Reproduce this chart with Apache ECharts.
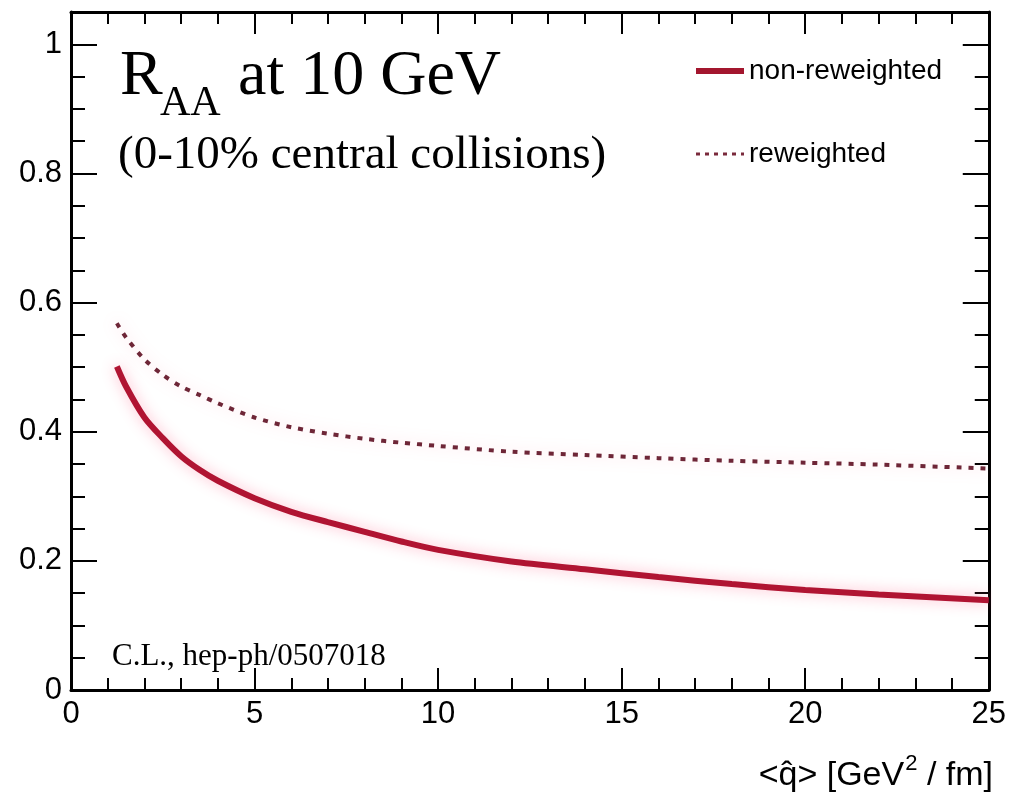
<!DOCTYPE html>
<html>
<head>
<meta charset="utf-8">
<script src="https://cdn.jsdelivr.net/npm/echarts@6/dist/echarts.min.js"></script>
<style>
html,body{margin:0;padding:0;background:#fff;}
#chart{width:1009px;height:801px;}
</style>
</head>
<body>
<div id="chart"></div>
<script>
// <q̂> values [GeV^2/fm]
var qhat = [1.25, 1.5, 2, 2.5, 3, 3.5, 4, 5, 6, 7, 8, 9, 10, 12, 14, 16, 18, 20, 22, 25];
// R_AA, non-reweighted (solid)
var nonReweighted = [0.501, 0.470, 0.422, 0.390, 0.362, 0.341, 0.324, 0.297, 0.276, 0.260, 0.245, 0.230, 0.217, 0.199, 0.187, 0.175, 0.164, 0.155, 0.148, 0.139];
// R_AA, reweighted (dotted)
var reweighted = [0.568, 0.546, 0.512, 0.488, 0.470, 0.457, 0.444, 0.422, 0.407, 0.397, 0.389, 0.383, 0.378, 0.369, 0.364, 0.359, 0.355, 0.352, 0.349, 0.343];
var seriesNames = ['non-reweighted', 'reweighted'];
var xTicks = {min: 0, max: 25, interval: 5};
var yTicks = {min: 0, max: 1.05, interval: 0.2};

function pairs(xs, ys) { return xs.map(function (x, i) { return [x, ys[i]]; }); }

var chart = echarts.init(document.getElementById('chart'), null, {renderer: 'canvas'});
var sansFont = '"Liberation Sans", Arial, Helvetica, sans-serif';
var serifFont = '"Liberation Serif", "Times New Roman", serif';

function xAxisDef(pos, showLabel) {
  return {
    type: 'value', position: pos,
    min: xTicks.min, max: xTicks.max, interval: xTicks.interval,
    axisLine: {show: true, onZero: false, lineStyle: {color: '#000', width: 3}},
    axisTick: {show: true, inside: true, length: 22, lineStyle: {color: '#000', width: 2}},
    minorTick: {show: true, splitNumber: 5, length: 12, lineStyle: {color: '#000', width: 2}},
    splitLine: {show: false},
    axisLabel: {show: showLabel, color: '#000', fontFamily: sansFont, fontSize: 31, margin: 9}
  };
}
function yAxisDef(pos, showLabel) {
  return {
    type: 'value', position: pos,
    min: yTicks.min, max: yTicks.max, interval: yTicks.interval,
    axisLine: {show: true, onZero: false, lineStyle: {color: '#000', width: 3}},
    axisTick: {show: true, inside: true, length: 26, lineStyle: {color: '#000', width: 2}},
    minorTick: {show: true, splitNumber: 4, length: 14, lineStyle: {color: '#000', width: 2}},
    splitLine: {show: false},
    axisLabel: {show: showLabel, showMaxLabel: false, color: '#000', fontFamily: sansFont, fontSize: 31, margin: 9}
  };
}

var solidColor = '#b01432';
var dotColor = '#6e2637';

var option = {
  backgroundColor: '#fff',
  animation: false,
  grid: {left: 71, top: 12, right: 18, bottom: 111},
  xAxis: [xAxisDef('bottom', true), xAxisDef('top', false)],
  yAxis: [yAxisDef('left', true), yAxisDef('right', false)],
  legend: {
    orient: 'vertical', left: 688, top: 51,
    itemWidth: 48, itemHeight: 14, itemGap: 53,
    textStyle: {color: '#000', fontFamily: sansFont, fontSize: 28, lineHeight: 30},
    data: [
      {name: seriesNames[0], itemStyle: {opacity: 0}, lineStyle: {width: 6, color: '#a3162e', type: 'solid'}},
      {name: seriesNames[1], itemStyle: {opacity: 0}, lineStyle: {width: 3, color: '#7a2a3c', type: [4, 5]}}
    ]
  },
  series: [
    {
      name: seriesNames[0], type: 'line', xAxisIndex: 0, yAxisIndex: 0,
      data: pairs(qhat, nonReweighted), smooth: 0.3, symbol: 'none',
      itemStyle: {color: solidColor},
      lineStyle: {color: solidColor, width: 6, shadowColor: 'rgba(255,90,130,0.45)', shadowBlur: 14}
    },
    {
      name: seriesNames[1], type: 'line', xAxisIndex: 0, yAxisIndex: 0,
      data: pairs(qhat, reweighted), smooth: 0.3, symbol: 'none',
      itemStyle: {color: dotColor},
      lineStyle: {color: dotColor, width: 4, type: [5, 7], shadowColor: 'rgba(255,120,150,0.4)', shadowBlur: 14}
    }
  ],
  graphic: [
    {type: 'text', x: 120, y: 99 - 21.6, style: {text: 'R', font: '64px ' + serifFont, fill: '#000', verticalAlign: 'middle'}, silent: true},
    {type: 'text', x: 160, y: 118 - 14.2, style: {text: 'AA', font: '42px ' + serifFont, fill: '#000', verticalAlign: 'middle'}, silent: true},
    {type: 'text', x: 238, y: 99 - 21.6, style: {text: 'at 10 GeV', font: '64px ' + serifFont, fill: '#000', verticalAlign: 'middle'}, silent: true},
    {type: 'text', x: 118, y: 172 - 15.9, style: {text: '(0-10% central collisions)', font: '47px ' + serifFont, fill: '#000', verticalAlign: 'middle'}, silent: true},
    {type: 'text', x: 112, y: 667 - 10.5, style: {text: 'C.L., hep-ph/0507018', font: '31px ' + serifFont, fill: '#000', verticalAlign: 'middle'}, silent: true},
    {type: 'text', x: 993, y: 793, silent: true,
      style: {
        text: '{a|<q\u0302> [GeV}{s|2}{a| / fm]}',
        align: 'right', verticalAlign: 'bottom',
        rich: {
          a: {fontFamily: sansFont, fontSize: 34, color: '#000', lineHeight: 40, verticalAlign: 'bottom'},
          s: {fontFamily: sansFont, fontSize: 22, color: '#000', lineHeight: 40, verticalAlign: 'top', padding: [0, 0, 0, 1]}
        }
      }
    }
  ]
};
chart.setOption(option);
</script>
</body>
</html>
